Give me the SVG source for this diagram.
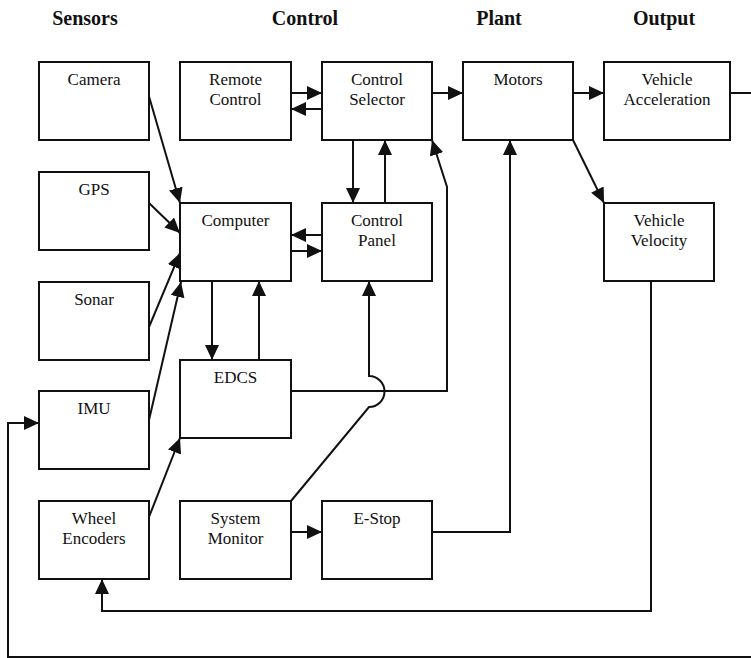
<svg xmlns="http://www.w3.org/2000/svg" width="751" height="658" viewBox="0 0 751 658">
<style>
.box{fill:#fff;stroke:#111;stroke-width:2}
.lbl{font-family:"Liberation Serif","Times New Roman",serif;font-size:17px;fill:#111;text-anchor:middle}
.hdr{font-family:"Liberation Serif","Times New Roman",serif;font-size:20px;font-weight:bold;fill:#111;text-anchor:middle}
.c{fill:none;stroke:#111;stroke-width:2}
</style>
<defs>
<marker id="ah" markerUnits="userSpaceOnUse" markerWidth="16" markerHeight="14" refX="15" refY="7" orient="auto" viewBox="0 0 16 14">
<path d="M0,0 L15,7 L0,14 z" fill="#111"/>
</marker>
</defs>
<rect width="751" height="658" fill="#fff"/>
<g id="headers">
<text class="hdr" x="85" y="25">Sensors</text>
<text class="hdr" x="305" y="25">Control</text>
<text class="hdr" x="499" y="25">Plant</text>
<text class="hdr" x="664" y="25">Output</text>
</g>
<g id="connectors">
<path class="c" d="M148,93 L180,203" marker-end="url(#ah)"/>
<path class="c" d="M149,203 L180,233" marker-end="url(#ah)"/>
<path class="c" d="M149,327 L180,253" marker-end="url(#ah)"/>
<path class="c" d="M149,420 L181,282" marker-end="url(#ah)"/>
<path class="c" d="M149,517 L180,438" marker-end="url(#ah)"/>
<path class="c" d="M212,281 L212,360" marker-end="url(#ah)"/>
<path class="c" d="M259,360 L259,281" marker-end="url(#ah)"/>
<path class="c" d="M322,235 L291,235" marker-end="url(#ah)"/>
<path class="c" d="M291,251 L322,251" marker-end="url(#ah)"/>
<path class="c" d="M353,140 L353,203" marker-end="url(#ah)"/>
<path class="c" d="M385,203 L385,140" marker-end="url(#ah)"/>
<path class="c" d="M291,93 L322,93" marker-end="url(#ah)"/>
<path class="c" d="M322,109 L291,109" marker-end="url(#ah)"/>
<path class="c" d="M432,93 L463,93" marker-end="url(#ah)"/>
<path class="c" d="M573,93 L604,93" marker-end="url(#ah)"/>
<path class="c" d="M730,93 L751,93"/>
<path class="c" d="M573,140 L604,203" marker-end="url(#ah)"/>
<path class="c" d="M432,532 L510,532 L510,140" marker-end="url(#ah)"/>
<path class="c" d="M291,532 L322,532" marker-end="url(#ah)"/>
<path class="c" d="M291,391 L447,391 L447,187 L432,140" marker-end="url(#ah)"/>
<path class="c" d="M291,501 L369,407 A15.5,15.5 0 0 0 369,376 L369,281" marker-end="url(#ah)"/>
<path class="c" d="M651,281 L651,611 L102,611 L102,579" marker-end="url(#ah)"/>
<path class="c" d="M751,657 L8,657 L8,423 L39,423" marker-end="url(#ah)"/>
</g>
<g id="camera"><rect class="box" x="39" y="62" width="110" height="78"/><text class="lbl" x="94" y="85">Camera</text></g>
<g id="remote-control"><rect class="box" x="180" y="62" width="111" height="78"/><text class="lbl" x="235.5" y="85">Remote</text><text class="lbl" x="235.5" y="105">Control</text></g>
<g id="control-selector"><rect class="box" x="322" y="62" width="110" height="78"/><text class="lbl" x="377" y="85">Control</text><text class="lbl" x="377" y="105">Selector</text></g>
<g id="motors"><rect class="box" x="463" y="62" width="110" height="78"/><text class="lbl" x="518" y="85">Motors</text></g>
<g id="vehicle-acceleration"><rect class="box" x="604" y="62" width="126" height="78"/><text class="lbl" x="667" y="85">Vehicle</text><text class="lbl" x="667" y="105">Acceleration</text></g>
<g id="gps"><rect class="box" x="39" y="172" width="110" height="78"/><text class="lbl" x="94" y="195">GPS</text></g>
<g id="computer"><rect class="box" x="180" y="203" width="111" height="78"/><text class="lbl" x="235.5" y="226">Computer</text></g>
<g id="control-panel"><rect class="box" x="322" y="203" width="110" height="78"/><text class="lbl" x="377" y="226">Control</text><text class="lbl" x="377" y="246">Panel</text></g>
<g id="vehicle-velocity"><rect class="box" x="604" y="203" width="110" height="78"/><text class="lbl" x="659" y="226">Vehicle</text><text class="lbl" x="659" y="246">Velocity</text></g>
<g id="sonar"><rect class="box" x="39" y="282" width="110" height="78"/><text class="lbl" x="94" y="305">Sonar</text></g>
<g id="edcs"><rect class="box" x="180" y="360" width="111" height="78"/><text class="lbl" x="235.5" y="383">EDCS</text></g>
<g id="imu"><rect class="box" x="39" y="391" width="110" height="78"/><text class="lbl" x="94" y="414">IMU</text></g>
<g id="wheel-encoders"><rect class="box" x="39" y="501" width="110" height="78"/><text class="lbl" x="94" y="524">Wheel</text><text class="lbl" x="94" y="544">Encoders</text></g>
<g id="system-monitor"><rect class="box" x="180" y="501" width="111" height="78"/><text class="lbl" x="235.5" y="524">System</text><text class="lbl" x="235.5" y="544">Monitor</text></g>
<g id="e-stop"><rect class="box" x="322" y="501" width="110" height="78"/><text class="lbl" x="377" y="524">E-Stop</text></g>
</svg>
